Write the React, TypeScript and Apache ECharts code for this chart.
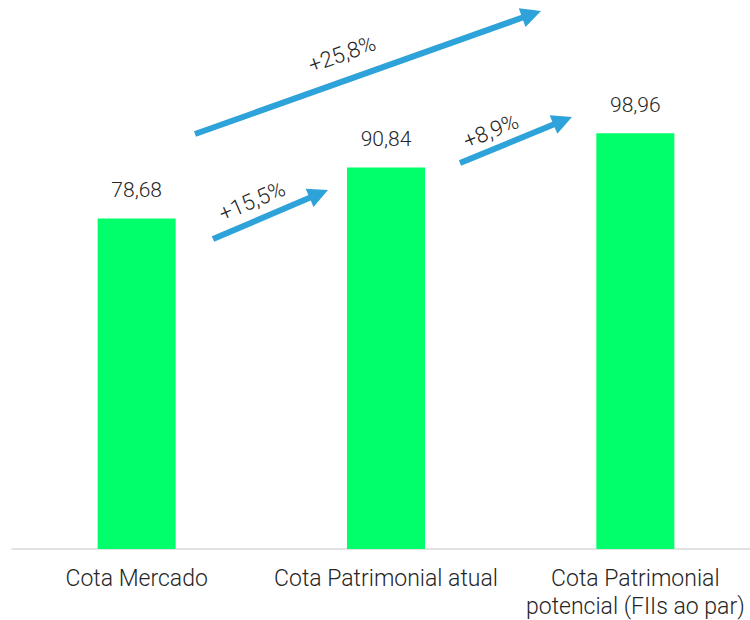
import React, { useEffect, useRef } from "react";
import * as echarts from "echarts";

const categories = ["Cota Mercado", "Cota Patrimonial atual", "Cota Patrimonial\npotencial (FIIs ao par)"];
const values = [78.68, 90.84, 98.96];
const changeLabels = ["+15,5%", "+8,9%", "+25,8%"];

const BLUE = "#2EA3DA";
const GREEN = "#00FF6A";
const TEXT = "#262626";

function arrow(x1: number, y1: number, x2: number, y2: number, label: string, lx: number, ly: number) {
  const dx = x2 - x1;
  const dy = y2 - y1;
  const len = Math.sqrt(dx * dx + dy * dy);
  const ux = dx / len;
  const uy = dy / len;
  const headLen = 20;
  const headW = 10;
  const bx = x2 - ux * headLen;
  const by = y2 - uy * headLen;
  const px = -uy;
  const py = ux;
  const angle = Math.atan2(-dy, dx);
  return [
    {
      type: "line",
      shape: { x1, y1, x2: bx + ux * 2, y2: by + uy * 2 },
      style: { stroke: BLUE, lineWidth: 6 },
      z: 10,
    },
    {
      type: "polygon",
      shape: {
        points: [
          [x2, y2],
          [bx + px * headW, by + py * headW],
          [bx - px * headW, by - py * headW],
        ],
      },
      style: { fill: BLUE },
      z: 10,
    },
    {
      type: "text",
      x: lx,
      y: ly,
      rotation: angle,
      style: {
        text: label,
        fill: TEXT,
        fontSize: 22,
        fontFamily: "Roboto",
        fontWeight: 300,
        align: "center",
        verticalAlign: "middle",
      },
      z: 10,
    },
  ];
}

export default function App() {
  const ref = useRef<HTMLDivElement>(null);
  useEffect(() => {
    if (!ref.current) return;
    const chart = echarts.init(ref.current, null, { renderer: "svg" });
    chart.setOption({
      animation: false,
      backgroundColor: "#ffffff",
      grid: { left: 12, width: 748, top: 45, height: 504 },
      xAxis: {
        type: "category",
        data: categories,
        axisLine: { show: true, lineStyle: { color: "#D9D9D9", width: 1.5 } },
        axisTick: { show: false },
        axisLabel: {
          color: TEXT,
          fontSize: 23,
          lineHeight: 28,
          fontFamily: "Roboto",
          fontWeight: 300,
          margin: 15,
          interval: 0,
        },
      },
      yAxis: {
        type: "value",
        min: 0,
        max: 120,
        show: false,
        splitLine: { show: false },
      },
      series: [
        {
          type: "bar",
          data: values,
          barWidth: 78,
          itemStyle: { color: GREEN },
          label: {
            show: true,
            position: "top",
            distance: 18,
            color: TEXT,
            fontSize: 21,
            fontFamily: "Roboto",
            fontWeight: 300,
            formatter: (p: any) => p.value.toFixed(2).replace(".", ","),
          },
        },
      ],
      graphic: [
        ...arrow(213, 239, 328, 190, changeLabels[0], 252, 201),
        ...arrow(460, 163, 572, 117, changeLabels[1], 491, 131),
        ...arrow(195, 134, 541, 11, changeLabels[2], 342, 54),
      ],
    });
    return () => chart.dispose();
  }, []);
  return (
    <div style={{ position: "absolute", left: 0, top: 0, width: 750, height: 620, overflow: "hidden" }}>
      <div ref={ref} style={{ width: 780, height: 620 }} />
    </div>
  );
}
